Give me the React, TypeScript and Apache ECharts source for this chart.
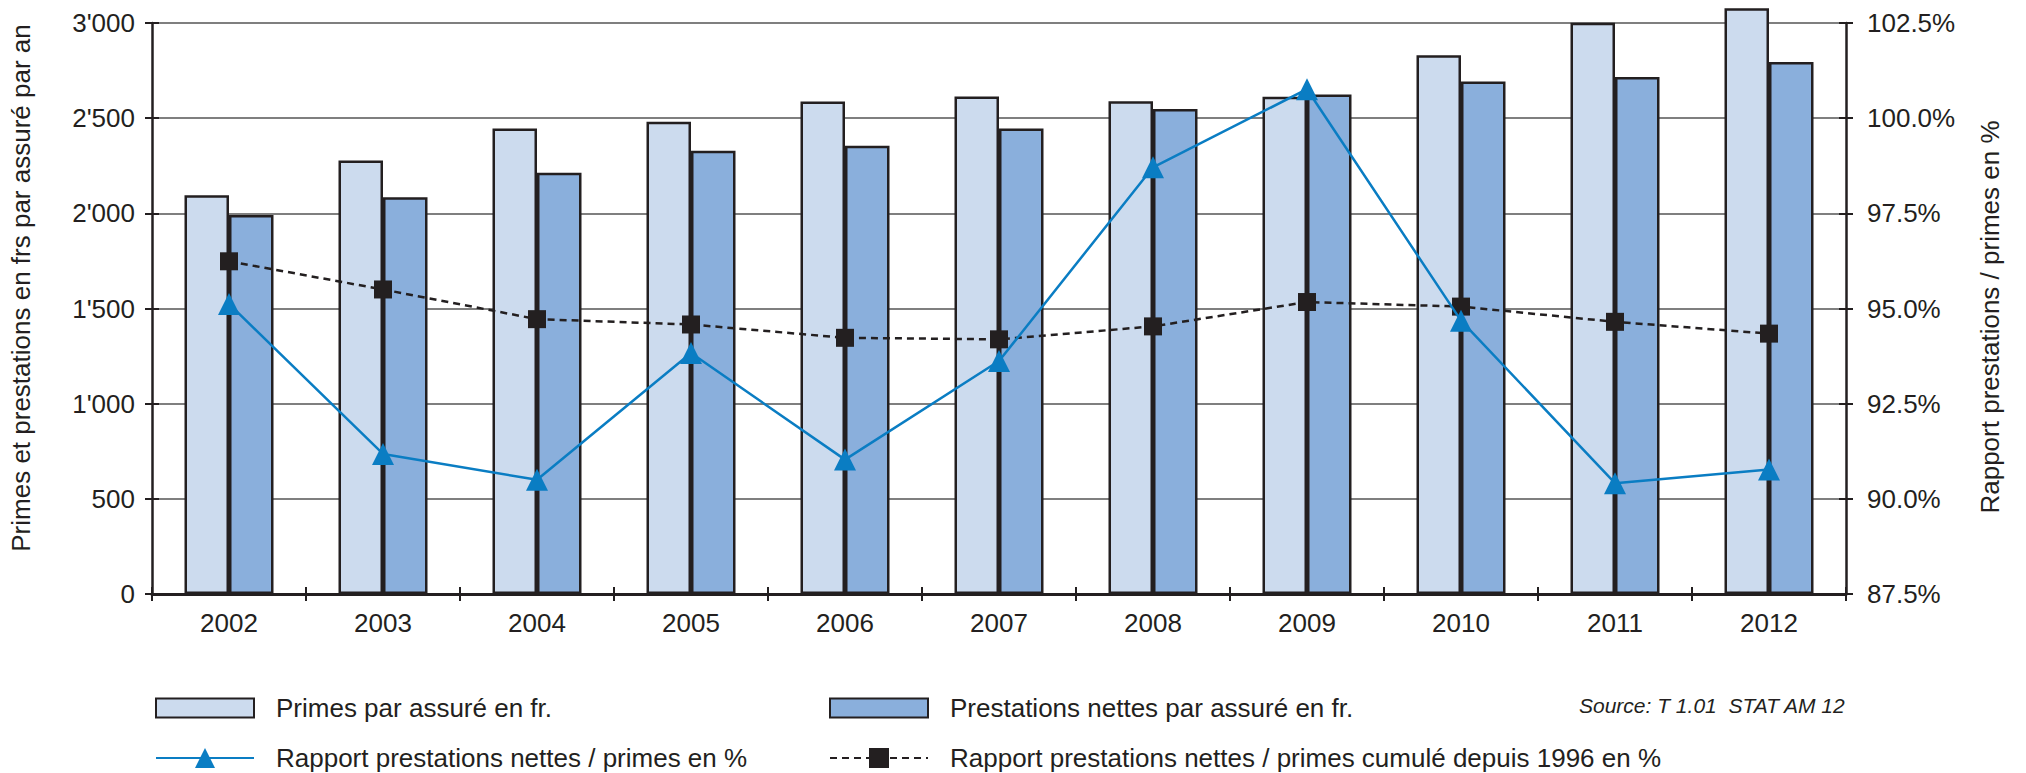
import React, { useEffect, useRef } from "react";
import * as echarts from "echarts";

const categories = ["2002", "2003", "2004", "2005", "2006", "2007", "2008", "2009", "2010", "2011", "2012"];
const primes = [2095, 2278, 2446, 2481, 2588, 2614, 2589, 2612, 2831, 3001, 3077];
const prestations = [1991, 2084, 2213, 2329, 2355, 2446, 2548, 2625, 2692, 2716, 2795];
const ratio = [95.12, 91.18, 90.5, 93.83, 91.03, 93.62, 98.71, 100.76, 94.68, 90.41, 90.77];
const cumul = [96.24, 95.5, 94.72, 94.58, 94.23, 94.19, 94.53, 95.17, 95.05, 94.65, 94.34];

const leftAxis = { min: 0, max: 3000, interval: 500 };
const rightAxis = { min: 87.5, max: 102.5, interval: 2.5 };

const seriesNames = [
  "Primes par assuré en fr.",
  "Prestations nettes par assuré en fr.",
  "Rapport prestations nettes / primes en %",
  "Rapport prestations nettes / primes cumulé depuis 1996 en %",
];
const leftTitle = "Primes et prestations en frs par assuré par an";
const rightTitle = "Rapport prestations / primes en %";
const sourceText = "Source: T 1.01  STAT AM 12";

const FONT = "'Liberation Sans', Arial, Helvetica, sans-serif";
const INK = "#231f20";

function fmtThousands(v: number): string {
  const s = String(Math.round(v));
  return s.replace(/\B(?=(\d{3})+(?!\d))/g, "'");
}

export default function App() {
  const ref = useRef<HTMLDivElement>(null);
  useEffect(() => {
    if (!ref.current) return;
    const chart = echarts.init(ref.current, null, { renderer: "svg" });
    const legendText = { fontSize: 26, color: INK, fontFamily: FONT, padding: [0, 0, 0, 17] };
    const option: any = {
      animation: false,
      backgroundColor: "#ffffff",
      textStyle: { fontFamily: FONT, color: INK },
      grid: { left: 152, right: 180, top: 23, bottom: 179, containLabel: false },
      title: {
        text: sourceText,
        left: 1579,
        top: 695,
        padding: 0,
        textStyle: { fontSize: 21, fontStyle: "italic", fontWeight: "normal", color: INK, fontFamily: FONT },
      },
      legend: [
        { data: [{ name: seriesNames[0], icon: "rect" }], left: 155, top: 695, padding: 0, itemWidth: 98, itemHeight: 19, textStyle: legendText, selectedMode: false },
        { data: [{ name: seriesNames[1], icon: "rect" }], left: 829, top: 695, padding: 0, itemWidth: 98, itemHeight: 19, textStyle: legendText, selectedMode: false },
        { data: [seriesNames[2]], left: 155, top: 745, padding: 0, itemWidth: 98, itemHeight: 25, textStyle: legendText, selectedMode: false },
        { data: [seriesNames[3]], left: 829, top: 745, padding: 0, itemWidth: 98, itemHeight: 25, textStyle: legendText, selectedMode: false },
      ],
      xAxis: [
        {
          type: "category",
          data: categories,
          position: "bottom",
          boundaryGap: true,
          axisLine: { show: true, lineStyle: { color: INK, width: 3 } },
          axisTick: { show: true, inside: false, length: 7, lineStyle: { color: INK, width: 2 } },
          axisLabel: { fontSize: 26, color: INK, margin: 16, fontFamily: FONT },
          splitLine: { show: false },
        },
        {
          type: "category",
          data: categories,
          position: "bottom",
          boundaryGap: true,
          axisLine: { show: false },
          axisTick: { show: true, inside: true, length: 7, lineStyle: { color: INK, width: 2 } },
          axisLabel: { show: false },
          splitLine: { show: false },
        },
      ],
      yAxis: [
        {
          type: "value",
          position: "left",
          min: leftAxis.min,
          max: leftAxis.max,
          interval: leftAxis.interval,
          axisLine: { show: true, lineStyle: { color: INK, width: 2.5 } },
          axisTick: { show: true, inside: false, length: 7, lineStyle: { color: INK, width: 2 } },
          axisLabel: { fontSize: 26, color: INK, margin: 17, fontFamily: FONT, formatter: (v: number) => fmtThousands(v) },
          splitLine: { show: true, lineStyle: { color: "#555555", width: 1.5 } },
        },
        {
          type: "value",
          position: "right",
          min: rightAxis.min,
          max: rightAxis.max,
          interval: rightAxis.interval,
          axisLine: { show: true, lineStyle: { color: INK, width: 2.5 } },
          axisTick: { show: true, inside: false, length: 7, lineStyle: { color: INK, width: 2 } },
          axisLabel: { fontSize: 26, color: INK, margin: 21, fontFamily: FONT, formatter: (v: number) => v.toFixed(1) + "%" },
          splitLine: { show: false },
        },
        {
          type: "value",
          position: "left",
          min: leftAxis.min,
          max: leftAxis.max,
          interval: leftAxis.interval,
          axisLine: { show: false },
          axisTick: { show: true, inside: true, length: 7, lineStyle: { color: INK, width: 2 } },
          axisLabel: { show: false },
          splitLine: { show: false },
        },
        {
          type: "value",
          position: "right",
          min: rightAxis.min,
          max: rightAxis.max,
          interval: rightAxis.interval,
          axisLine: { show: false },
          axisTick: { show: true, inside: true, length: 7, lineStyle: { color: INK, width: 2 } },
          axisLabel: { show: false },
          splitLine: { show: false },
        },
      ],
      graphic: [
        {
          type: "text",
          x: 21,
          y: 288,
          rotation: Math.PI / 2,
          style: { text: leftTitle, fontSize: 26, fontFamily: FONT, fill: INK, align: "center", verticalAlign: "middle" },
        },
        {
          type: "text",
          x: 1990,
          y: 317,
          rotation: Math.PI / 2,
          style: { text: rightTitle, fontSize: 26, fontFamily: FONT, fill: INK, align: "center", verticalAlign: "middle" },
        },
      ],
      series: [
        {
          name: seriesNames[0],
          type: "bar",
          data: primes,
          xAxisIndex: 0,
          yAxisIndex: 0,
          barWidth: 44.5,
          barGap: "0%",
          clip: false,
          itemStyle: { color: "#ccdbee", borderColor: INK, borderWidth: 2.5 },
        },
        {
          name: seriesNames[1],
          type: "bar",
          data: prestations,
          xAxisIndex: 0,
          yAxisIndex: 0,
          barWidth: 44.5,
          barGap: "0%",
          clip: false,
          itemStyle: { color: "#8aafdc", borderColor: INK, borderWidth: 2.5 },
        },
        {
          name: seriesNames[3],
          type: "line",
          data: cumul,
          xAxisIndex: 0,
          yAxisIndex: 1,
          symbol: "rect",
          symbolSize: 18,
          showAllSymbol: true,
          itemStyle: { color: INK },
          lineStyle: { color: INK, width: 2.5, type: [7, 5] },
          z: 3,
        },
        {
          name: seriesNames[2],
          type: "line",
          data: ratio,
          xAxisIndex: 0,
          yAxisIndex: 1,
          symbol: "triangle",
          symbolSize: 22,
          showAllSymbol: true,
          itemStyle: { color: "#0a7dc3" },
          lineStyle: { color: "#0a7dc3", width: 2.5 },
          z: 4,
        },
      ],
    };
    chart.setOption(option);
    return () => chart.dispose();
  }, []);
  return (
    <div
      ref={ref}
      style={{ position: "fixed", left: 0, top: 0, width: "2026px", height: "773px", background: "#fff" }}
    />
  );
}
